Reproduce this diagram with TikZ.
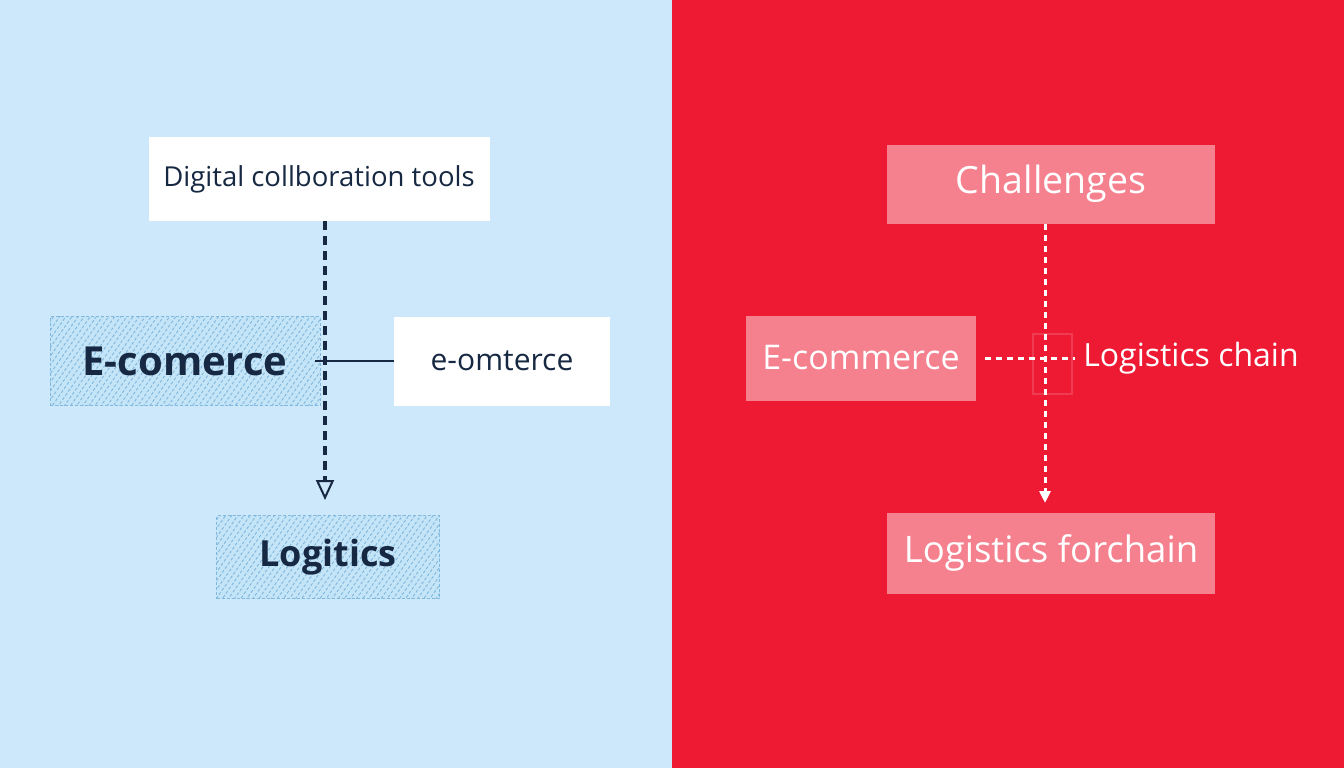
\documentclass[tikz,border=0pt]{standalone}
\usepackage{fontspec}
\setmainfont{Open Sans}
\usetikzlibrary{arrows.meta,patterns.meta}

\definecolor{skyback}{RGB}{205,232,250}
\definecolor{redback}{RGB}{238,26,52}
\definecolor{navytext}{RGB}{22,40,66}
\definecolor{hatchfill}{RGB}{196,228,247}
\definecolor{hatchline}{RGB}{128,184,222}

\begin{document}
\begin{tikzpicture}[x=1pt, y=-1pt]

\useasboundingbox (0,0) rectangle (1344,768);
\fill[skyback] (0,0) rectangle (672,768);
\fill[redback] (672,0) rectangle (1344,768);

\tikzstyle{every node} = [rectangle, inner sep=0pt]
\tikzstyle{whitebox} = [fill=white, text=navytext]
\tikzstyle{hatchbox} = [preaction={fill=hatchfill}, pattern={Lines[angle=55, distance=5pt, line width=0.9pt]}, pattern color=hatchline, draw=hatchline, densely dashed, line width=0.6pt, text=navytext]
\tikzstyle{pinkbox} = [fill=white, fill opacity=0.45, text opacity=1, text=white]

% left half
\node[whitebox, minimum width=341, minimum height=84] (tools) at (319,179) {\fontsize{27.5}{33}\selectfont Digital collboration tools};
\node[hatchbox, minimum width=270, minimum height=89] (ecom) at (185,361) {\fontsize{40}{48}\selectfont\bfseries E-comerce};
\node[whitebox, minimum width=216, minimum height=89] (eomt) at (502,361) {\fontsize{30}{36}\selectfont e-omterce};
\node[hatchbox, minimum width=223, minimum height=83] (logi) at (328,557) {\fontsize{36}{43}\selectfont\bfseries Logitics};

\coordinate (ltop) at (325,221);
\coordinate (ltip) at (325,500);
\coordinate (lend) at (315,361);

% right half
\node[pinkbox, minimum width=328, minimum height=79] (chal) at (1051,184) {\fontsize{37.5}{45}\selectfont Challenges};
\node[pinkbox, minimum width=230, minimum height=85] (ecomr) at (861,358) {\fontsize{34}{41}\selectfont E-commerce};
\node[text=white] (chain) at (1191,358) {\fontsize{32}{38}\selectfont Logistics chain};
\node[pinkbox, minimum width=328, minimum height=81] (forch) at (1051,553) {\fontsize{36.5}{44}\selectfont Logistics forchain};

\coordinate (rtop) at (1045,224);
\coordinate (rtip) at (1045,503);
\coordinate (rend) at (1075,358);

\draw[white, opacity=0.15, line width=1.2pt] (1033,334) rectangle (1072,394);

\draw[navytext, line width=3.5pt, dash pattern=on 9pt off 6pt, -{Triangle[open, length=20pt, width=18pt, line width=2pt]}] (ltop) -- (ltip);
\draw[-, navytext, line width=2.5pt] (eomt.west) -- (lend);
\draw[white, line width=3pt, dash pattern=on 6pt off 5pt, -{Triangle[length=12pt, width=11pt]}] (rtop) -- (rtip);
\draw[-, white, line width=3pt, dash pattern=on 6pt off 5pt] ([xshift=9pt]ecomr.east) -- (rend);

\end{tikzpicture}
\end{document}
